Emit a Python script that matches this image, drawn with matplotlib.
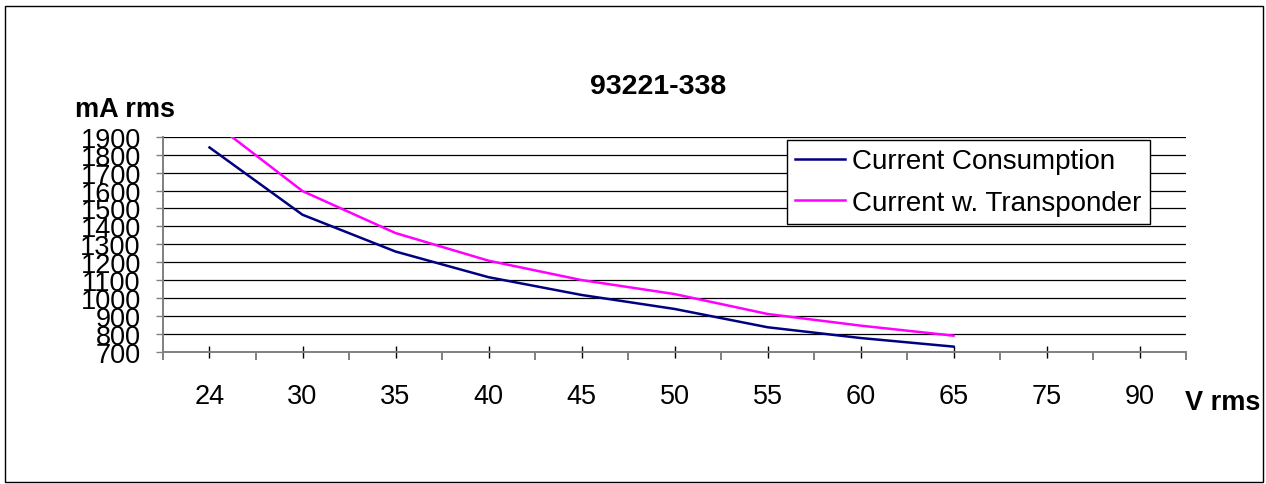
import numpy as np
import matplotlib
matplotlib.use('Agg')
import matplotlib.pyplot as plt
from matplotlib.patches import Rectangle

plt.rcParams['font.family'] = ['Liberation Sans', 'DejaVu Sans']

volts = ['24', '30', '35', '40', '45', '50', '55', '60', '65', '75', '90']
consumption = [1840, 1465, 1260, 1117, 1018, 940, 838, 778, 730, np.nan, np.nan]
transponder = [1995, 1597, 1363, 1209, 1101, 1023, 912, 847, 791, np.nan, np.nan]
yticks = list(range(700, 2000, 100))

W, H = 1266, 485
fig = plt.figure(figsize=(W / 100, H / 100), dpi=100)
ax = fig.add_axes([163 / W, 1 - 353 / H, (1186 - 163) / W, (353 - 137.7) / H])

x = np.arange(len(volts))
ax.plot(x, consumption, color='#000080', lw=1.8, label='Current Consumption')
ax.plot(x, transponder, color='#FF00FF', lw=1.8, label='Current w. Transponder')

ax.set_xlim(-0.5, len(volts) - 0.5)
ax.set_ylim(700, 1900)
ax.set_yticks(yticks)
ax.set_yticklabels([str(v) for v in yticks], fontsize=19.5)
ax.set_xticks(x)
ax.set_xticklabels(volts, fontsize=19.5)
ax.set_xticks(np.arange(-0.5, len(volts)), minor=True)

for v in yticks[1:]:
    ax.axhline(v, color='black', lw=0.9, zorder=1)

for s in ['top', 'right']:
    ax.spines[s].set_visible(False)
for s in ['left', 'bottom']:
    ax.spines[s].set_color('#808080')
    ax.spines[s].set_linewidth(1.4)

ax.tick_params(axis='y', direction='out', length=5, width=1, color='#808080', pad=11)
ax.tick_params(axis='x', which='major', direction='inout', length=9, width=1, color='black', pad=18)
ax.tick_params(axis='x', which='minor', direction='out', length=6, width=1.4, color='#808080')

fig.text(658.5 / W, 1 - 87 / H, '93221-338', fontsize=20.5, fontweight='bold', ha='center', va='center')
fig.text(125 / W, 1 - 110 / H, 'mA rms', fontsize=19.5, fontweight='bold', ha='center', va='center')
fig.text(1222.5 / W, 1 - 403.5 / H, 'V rms', fontsize=19.5, fontweight='bold', ha='center', va='center')

leg = ax.legend(loc='upper left', bbox_to_anchor=(787 / W, 1 - 141 / H), bbox_transform=fig.transFigure,
                fontsize=20, frameon=True, fancybox=False, framealpha=1, edgecolor='black',
                borderaxespad=0, borderpad=0.3, handlelength=1.8, handletextpad=0.25, labelspacing=0.55)
leg.get_frame().set_linewidth(1)
leg.set_zorder(5)

fig.patches.append(Rectangle((5 / W, 1 - 483 / H), (1263 - 5) / W, (483 - 7) / H,
                             transform=fig.transFigure, fill=False, edgecolor='black', lw=1))

fig.savefig('out.png', dpi=100)
